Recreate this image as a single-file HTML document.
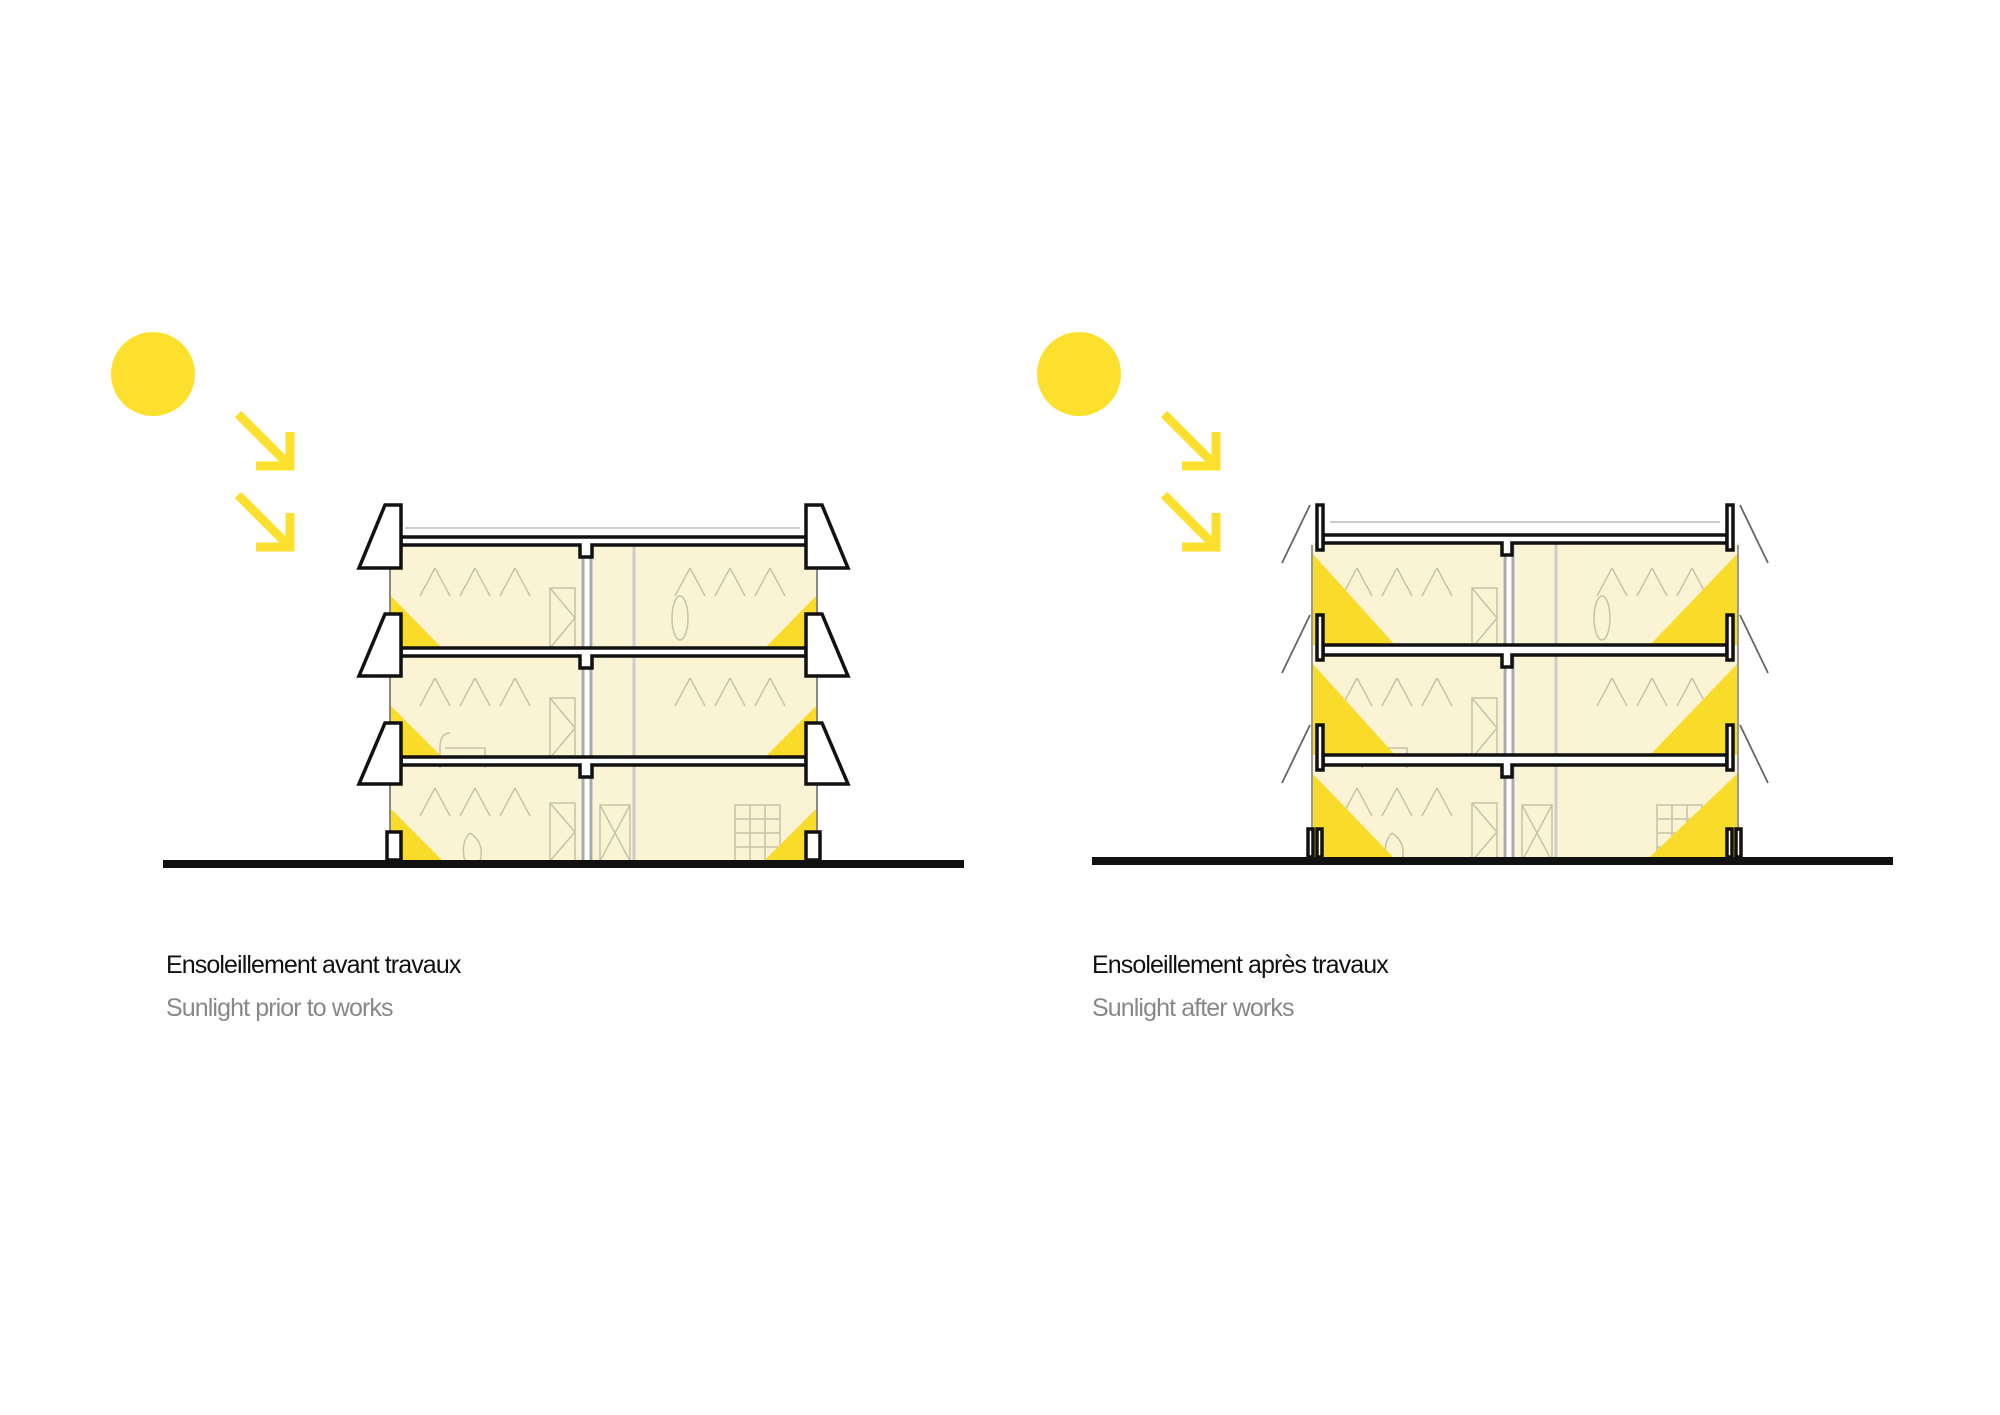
<!DOCTYPE html>
<html><head><meta charset="utf-8"><style>
html,body{margin:0;padding:0;background:#fff;}
svg{display:block}
text{font-family:"Liberation Sans",sans-serif;}
</style></head><body>
<svg width="2000" height="1415" viewBox="0 0 2000 1415" xmlns="http://www.w3.org/2000/svg">
<defs>
<g id="interior">
  <rect x="0" y="0" width="427" height="320" fill="#fbf4d4"/>
  <rect x="191" y="0" width="12" height="320" fill="#fff"/>
  <line x1="193" y1="0" x2="193" y2="320" stroke="#aaa" stroke-width="3"/>
  <line x1="201" y1="0" x2="201" y2="320" stroke="#aaa" stroke-width="3"/>
  <line x1="244" y1="0" x2="244" y2="320" stroke="#ccc" stroke-width="3"/>
  <g stroke="#c8c2a8" stroke-width="1.5" fill="none">
    <path d="M45 25 l-15 28 M45 25 l15 28 M85 25 l-15 28 M85 25 l15 28 M125 25 l-15 28 M125 25 l15 28"/>
    <path d="M300 25 l-15 28 M300 25 l15 28 M340 25 l-15 28 M340 25 l15 28 M380 25 l-15 28 M380 25 l15 28"/>
    <path d="M45 135 l-15 28 M45 135 l15 28 M85 135 l-15 28 M85 135 l15 28 M125 135 l-15 28 M125 135 l15 28"/>
    <path d="M300 135 l-15 28 M300 135 l15 28 M340 135 l-15 28 M340 135 l15 28 M380 135 l-15 28 M380 135 l15 28"/>
    <path d="M45 245 l-15 28 M45 245 l15 28 M85 245 l-15 28 M85 245 l15 28 M125 245 l-15 28 M125 245 l15 28"/>
    <rect x="160" y="45" width="25" height="60"/><path d="M160 45 l25 30 l-25 30"/>
    <rect x="160" y="155" width="25" height="60"/><path d="M160 155 l25 30 l-25 30"/>
    <rect x="160" y="260" width="25" height="58"/><path d="M160 260 l25 29 l-25 29"/>
    <rect x="210" y="262" width="30" height="56"/><path d="M210 262 l30 56 M240 262 l-30 56"/>
    <rect x="345" y="262" width="45" height="56"/><path d="M345 276 h45 M345 290 h45 M345 304 h45 M360 262 v56 M375 262 v56"/>
    <ellipse cx="290" cy="75" rx="8" ry="22"/>
    <path d="M60 190 q-10 0 -10 15 v20 M55 205 h40 v20"/>
    <path d="M80 290 q-10 10 -5 28 h15 q5 -18 -10 -28"/>
  </g>
</g>
</defs>

<!-- LEFT -->
<circle cx="153" cy="374" r="42" fill="#fde02e"/>
<g stroke="#fde02e" stroke-width="9" fill="none">
  <path d="M238 414 L288 464 M256 466 H290 V432"/>
  <path d="M238 495 L288 545 M256 547 H290 V513"/>
</g>
<g transform="translate(390,543)"><use href="#interior"/></g>
<g fill="#f9dc2a">
  <polygon points="390,595 390,648 442,648"/>
  <polygon points="390,705 390,757 442,757"/>
  <polygon points="390,808 390,860 442,860"/>
  <polygon points="817,595 817,648 765,648"/>
  <polygon points="817,705 817,757 765,757"/>
  <polygon points="817,808 817,860 765,860"/>
</g>
<line x1="390" y1="545" x2="390" y2="860" stroke="#888" stroke-width="2"/>
<line x1="817" y1="545" x2="817" y2="860" stroke="#888" stroke-width="2"/>
<line x1="405" y1="528" x2="800" y2="528" stroke="#ccc" stroke-width="2"/>
<g fill="#fff" stroke="#111" stroke-width="3.5">
  <path d="M401 537 H806 V545 H592 V557 H580 V545 H401 Z"/>
  <path d="M401 648 H806 V656 H592 V668 H580 V656 H401 Z"/>
  <path d="M401 757 H806 V765 H592 V777 H580 V765 H401 Z"/>
</g>
<g fill="#fff" stroke="#111" stroke-width="3.5">
  <polygon points="385,505 401,505 401,568 359,568"/>
  <polygon points="385,614 401,614 401,676 359,676"/>
  <polygon points="385,723 401,723 401,784 359,784"/>
  <polygon points="822,505 806,505 806,568 848,568"/>
  <polygon points="822,614 806,614 806,676 848,676"/>
  <polygon points="822,723 806,723 806,784 848,784"/>
  <rect x="387" y="832" width="14" height="28"/>
  <rect x="806" y="832" width="14" height="28"/>
</g>
<rect x="163" y="860" width="801" height="8" fill="#111"/>
<text x="166" y="973" font-size="25" fill="#111" letter-spacing="-0.9">Ensoleillement avant travaux</text>
<text x="166" y="1016" font-size="25" fill="#888" letter-spacing="-0.9">Sunlight prior to works</text>

<!-- RIGHT -->
<circle cx="1079" cy="374" r="42" fill="#fde02e"/>
<g stroke="#fde02e" stroke-width="9" fill="none">
  <path d="M1164 414 L1214 464 M1182 466 H1216 V432"/>
  <path d="M1164 495 L1214 545 M1182 547 H1216 V513"/>
</g>
<g transform="translate(1312,543)"><use href="#interior"/></g>
<g fill="#f9dc2a">
  <polygon points="1312,553 1312,645 1395,645"/>
  <polygon points="1312,663 1312,755 1395,755"/>
  <polygon points="1312,773 1312,857 1393,857"/>
  <polygon points="1738,553 1738,645 1650,645"/>
  <polygon points="1738,663 1738,755 1650,755"/>
  <polygon points="1738,773 1738,857 1650,857"/>
</g>
<line x1="1312" y1="545" x2="1312" y2="857" stroke="#999" stroke-width="2"/>
<line x1="1738" y1="545" x2="1738" y2="857" stroke="#999" stroke-width="2"/>
<line x1="1330" y1="522" x2="1720" y2="522" stroke="#ccc" stroke-width="2"/>
<g fill="#fff" stroke="#111" stroke-width="3.5">
  <path d="M1323 535 H1727 V543 H1512 V555 H1502 V543 H1323 Z"/>
  <path d="M1323 645 H1727 V655 H1512 V667 H1502 V655 H1323 Z"/>
  <path d="M1323 755 H1727 V765 H1512 V777 H1502 V765 H1323 Z"/>
  <rect x="1317" y="505" width="6" height="45"/>
  <rect x="1317" y="615" width="6" height="45"/>
  <rect x="1317" y="725" width="6" height="45"/>
  <rect x="1727" y="505" width="6" height="45"/>
  <rect x="1727" y="615" width="6" height="45"/>
  <rect x="1727" y="725" width="6" height="45"/>
  <rect x="1308" y="829" width="5" height="28"/>
  <rect x="1317" y="829" width="5" height="28"/>
  <rect x="1727" y="829" width="5" height="28"/>
  <rect x="1736" y="829" width="5" height="28"/>
</g>
<g stroke="#666" stroke-width="1.8" fill="none">
  <path d="M1310 505 L1282 563 M1310 615 L1282 673 M1310 725 L1282 783"/>
  <path d="M1740 505 L1768 563 M1740 615 L1768 673 M1740 725 L1768 783"/>
</g>
<rect x="1092" y="857" width="801" height="8" fill="#111"/>
<text x="1092" y="973" font-size="25" fill="#111" letter-spacing="-0.9">Ensoleillement après travaux</text>
<text x="1092" y="1016" font-size="25" fill="#888" letter-spacing="-0.9">Sunlight after works</text>
</svg>
</body></html>
